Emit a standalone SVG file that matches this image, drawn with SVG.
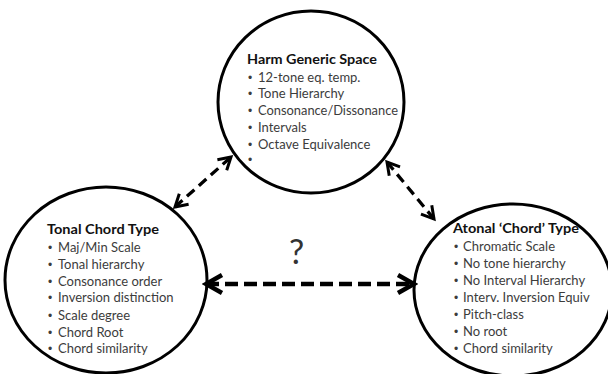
<svg xmlns="http://www.w3.org/2000/svg" width="608" height="374" viewBox="0 0 608 374">
<defs>
<style>
.node ellipse{fill:#fff;stroke:#000;stroke-width:3}
.t{font-family:Lato,"Liberation Sans",sans-serif;font-weight:bold;font-size:13.5px;fill:#111}
.i{font-family:Lato,"Liberation Sans",sans-serif;font-size:13px;fill:#3c3c3c}
.b{font-family:"Liberation Sans",sans-serif;font-size:12px;fill:#3c3c3c}
.c line{stroke:#000;fill:none}
.d{stroke-width:3.3;stroke-dasharray:10 6}
.h{stroke-width:4.5;stroke-dasharray:13 6}
.q{font-family:Lato,"Liberation Sans",sans-serif;font-size:34px;fill:#333}
</style>
<marker id="a" markerUnits="userSpaceOnUse" markerWidth="18" markerHeight="18" refX="14" refY="8" orient="auto-start-reverse" viewBox="0 0 18 16">
<path d="M2,1 L14,8 L2,15" fill="none" stroke="#000" stroke-width="3"/>
</marker>
<marker id="ah" markerUnits="userSpaceOnUse" markerWidth="22" markerHeight="22" refX="18" refY="10" orient="auto-start-reverse" viewBox="0 0 22 20">
<path d="M2,1 L18,10 L2,19" fill="none" stroke="#000" stroke-width="4.5"/>
</marker>
</defs>
<rect width="608" height="374" fill="#fff"/>
<g id="harm" class="node">
<ellipse cx="311" cy="102" rx="93" ry="91"/>
<text class="t" x="247" y="64" textLength="130" lengthAdjust="spacingAndGlyphs">Harm Generic Space</text>
<text class="b" x="248" y="82">•</text><text class="i" x="258" y="82">12-tone eq. temp.</text>
<text class="b" x="248" y="98">•</text><text class="i" x="258" y="98">Tone Hierarchy</text>
<text class="b" x="248" y="115">•</text><text class="i" x="258" y="115" textLength="140" lengthAdjust="spacingAndGlyphs">Consonance/Dissonance</text>
<text class="b" x="248" y="132">•</text><text class="i" x="258" y="132">Intervals</text>
<text class="b" x="248" y="149">•</text><text class="i" x="258" y="149">Octave Equivalence</text>
<text class="b" x="248" y="164">•</text>
</g>
<g id="tonal" class="node">
<ellipse cx="106" cy="280" rx="101" ry="93"/>
<text class="t" x="47" y="234" textLength="112" lengthAdjust="spacingAndGlyphs">Tonal Chord Type</text>
<text class="b" x="48" y="252">•</text><text class="i" x="58" y="252">Maj/Min Scale</text>
<text class="b" x="48" y="269">•</text><text class="i" x="58" y="269">Tonal hierarchy</text>
<text class="b" x="48" y="286">•</text><text class="i" x="58" y="286">Consonance order</text>
<text class="b" x="48" y="302">•</text><text class="i" x="58" y="302">Inversion distinction</text>
<text class="b" x="48" y="320">•</text><text class="i" x="58" y="320">Scale degree</text>
<text class="b" x="48" y="337">•</text><text class="i" x="58" y="337">Chord Root</text>
<text class="b" x="48" y="353">•</text><text class="i" x="58" y="353">Chord similarity</text>
</g>
<g id="atonal" class="node">
<ellipse cx="513" cy="290" rx="99" ry="86"/>
<text class="t" x="453" y="233" textLength="126" lengthAdjust="spacingAndGlyphs">Atonal ‘Chord’ Type</text>
<text class="b" x="454" y="251">•</text><text class="i" x="463" y="251">Chromatic Scale</text>
<text class="b" x="454" y="268">•</text><text class="i" x="463" y="268">No tone hierarchy</text>
<text class="b" x="454" y="285">•</text><text class="i" x="463" y="285">No Interval Hierarchy</text>
<text class="b" x="454" y="302">•</text><text class="i" x="463" y="302">Interv. Inversion Equiv</text>
<text class="b" x="454" y="319">•</text><text class="i" x="463" y="319">Pitch-class</text>
<text class="b" x="454" y="336">•</text><text class="i" x="463" y="336">No root</text>
<text class="b" x="454" y="353">•</text><text class="i" x="463" y="353">Chord similarity</text>
</g>
<g id="connectors" class="c">
<line class="d" x1="175" y1="207" x2="231" y2="157" marker-start="url(#a)" marker-end="url(#a)"/>
<line class="d" x1="387" y1="162" x2="434" y2="219" marker-start="url(#a)" marker-end="url(#a)"/>
<line class="h" x1="206" y1="284" x2="414" y2="284" marker-start="url(#ah)" marker-end="url(#ah)"/>
</g>
<text class="q" x="289" y="264">?</text>
</svg>
